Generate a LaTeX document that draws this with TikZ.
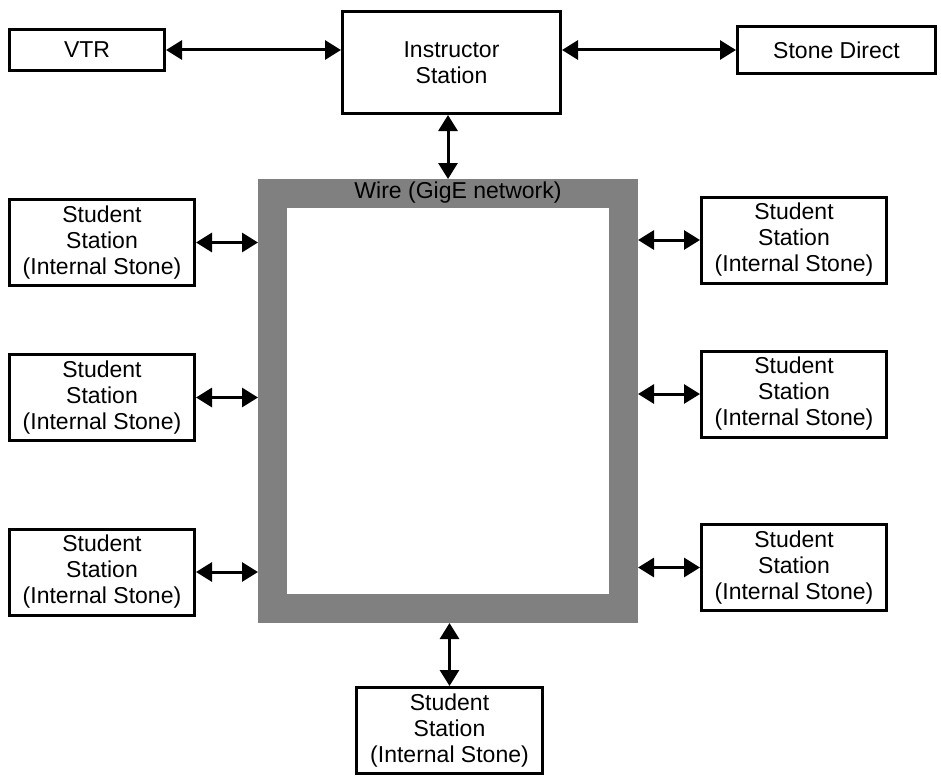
\documentclass[tikz,border=0pt]{standalone}
\usepackage{fontspec}
\setmainfont{Liberation Sans}
\usetikzlibrary{arrows.meta}
\definecolor{wiregray}{RGB}{128,128,128}
\tikzset{
  box/.style={draw=black, line width=3pt, fill=white, inner sep=0pt, align=center,
    font=\fontsize{23}{26}\selectfont},
  stud/.style={box, minimum width=185pt, minimum height=86pt},
  biarrow/.style={line width=3pt,
    {Triangle[length=16pt,width=19pt]}-{Triangle[length=16pt,width=19pt]}},
}
\begin{document}
\begin{tikzpicture}[x=1pt,y=-1pt]
\useasboundingbox (0,0) rectangle (941,776);
% wire frame
\node[draw=wiregray, line width=29pt, minimum width=351pt, minimum height=415pt, inner sep=0pt] (wire) at (448,401) {};
\node[font=\fontsize{23}{26}\selectfont, inner sep=0pt] (wirelabel) at (458,193) {Wire (GigE network)};
% top row
\node[box, minimum width=155pt, minimum height=41pt] (vtr) at (87,50) {VTR};
\node[box, minimum width=218pt, minimum height=102pt] (instr) at (451.5,62.5) {Instructor\\Station};
\node[box, minimum width=198pt, minimum height=47pt] (stone) at (836.5,50) {Stone Direct};
% left students
\node[stud] (l1) at (102,242.5) {Student\\Station\\(Internal Stone)};
\node[stud] (l2) at (102,397.5) {Student\\Station\\(Internal Stone)};
\node[stud] (l3) at (102,572) {Student\\Station\\(Internal Stone)};
% right students
\node[stud] (r1) at (794,240) {Student\\Station\\(Internal Stone)};
\node[stud] (r2) at (794,394) {Student\\Station\\(Internal Stone)};
\node[stud] (r3) at (794,567.5) {Student\\Station\\(Internal Stone)};
% bottom student
\node[stud, minimum width=186pt] (b) at (449.5,730.5) {Student\\Station\\(Internal Stone)};
% connectors
\draw[biarrow] (vtr.east) -- (vtr.east -| instr.west);
\draw[biarrow] (instr.east |- stone.west) -- (stone.west);
\draw[biarrow] (instr.south -| wire.north) -- (wire.north);
\draw[biarrow] (l1.east) -- (l1.east -| wire.west);
\draw[biarrow] (l2.east) -- (l2.east -| wire.west);
\draw[biarrow] (l3.east) -- (l3.east -| wire.west);
\draw[biarrow] (r1.west -| wire.east) -- (r1.west);
\draw[biarrow] (r2.west -| wire.east) -- (r2.west);
\draw[biarrow] (r3.west -| wire.east) -- (r3.west);
\draw[biarrow] (wire.south -| b.north) -- (b.north);
\end{tikzpicture}
\end{document}
